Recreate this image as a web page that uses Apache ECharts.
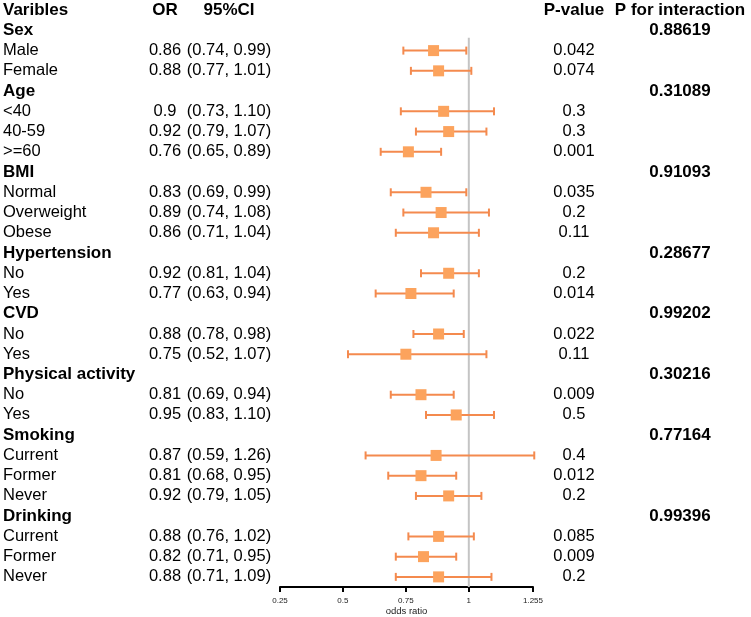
<!DOCTYPE html>
<html><head><meta charset="utf-8">
<script src="https://cdn.jsdelivr.net/npm/echarts@6/dist/echarts.min.js"></script>
<style>html,body{margin:0;padding:0;background:#fff}#c{width:751px;height:617px}</style>
</head><body><div id="c"></div>
<script>
const headers = ['Varibles', 'OR', '95%CI', 'P-value', 'P for interaction'];
const rowLabels = ['Sex','Male','Female','Age','<40','40-59','>=60','BMI','Normal','Overweight','Obese','Hypertension','No','Yes','CVD','No','Yes','Physical activity','No','Yes','Smoking','Current','Former','Never','Drinking','Current','Former','Never'];
const isGroup = [1,0,0,1,0,0,0,1,0,0,0,1,0,0,1,0,0,1,0,0,1,0,0,0,1,0,0,0];
const orValues = [null,0.86,0.88,null,0.9,0.92,0.76,null,0.83,0.89,0.86,null,0.92,0.77,null,0.88,0.75,null,0.81,0.95,null,0.87,0.81,0.92,null,0.88,0.82,0.88];
const ciLower = [null,0.74,0.77,null,0.73,0.79,0.65,null,0.69,0.74,0.71,null,0.81,0.63,null,0.78,0.52,null,0.69,0.83,null,0.59,0.68,0.79,null,0.76,0.71,0.71];
const ciUpper = [null,0.99,1.01,null,1.10,1.07,0.89,null,0.99,1.08,1.04,null,1.04,0.94,null,0.98,1.07,null,0.94,1.10,null,1.26,0.95,1.05,null,1.02,0.95,1.09];
const pValues = [null,'0.042','0.074',null,'0.3','0.3','0.001',null,'0.035','0.2','0.11',null,'0.2','0.014',null,'0.022','0.11',null,'0.009','0.5',null,'0.4','0.012','0.2',null,'0.085','0.009','0.2'];
const pInteraction = ['0.88619',null,null,'0.31089',null,null,null,'0.91093',null,null,null,'0.28677',null,null,'0.99202',null,null,'0.30216',null,null,'0.77164',null,null,null,'0.99396',null,null,null];
const xTicks = [0.25, 0.5, 0.75, 1, 1.255];
const refValue = 1;

const FONT = '"Liberation Sans", Arial, sans-serif';
const markerColor = '#FCA35D';
const barColor = '#F48A4E';
const nRows = rowLabels.length + 1;
const cats = Array.from({length: nRows}, (_, i) => String(i));

function cell(col, i) {
  if (i === 0) return '{b|' + headers[col] + '}';
  const r = i - 1;
  let t = '';
  let bold = false;
  if (col === 0) { t = rowLabels[r]; bold = !!isGroup[r]; }
  else if (col === 1) { t = orValues[r] == null ? '' : String(orValues[r]); }
  else if (col === 2) { t = ciLower[r] == null ? '' : '(' + ciLower[r].toFixed(2) + ', ' + ciUpper[r].toFixed(2) + ')'; }
  else if (col === 3) { t = pValues[r] == null ? '' : pValues[r]; }
  else if (col === 4) { t = pInteraction[r] == null ? '' : pInteraction[r]; bold = true; }
  if (!t) return '';
  return (bold ? '{b|' : '{n|') + t + '}';
}

const rich = {
  b: {fontFamily: FONT, fontWeight: 'bold', fontSize: 17, color: '#000'},
  n: {fontFamily: FONT, fontSize: 16.5, color: '#000'}
};

function textAxis(col, position, offset, align) {
  return {
    type: 'category', gridIndex: 0, inverse: true, position: position, offset: offset,
    data: cats, boundaryGap: true,
    axisLine: {show: false}, axisTick: {show: false}, splitLine: {show: false},
    axisLabel: {
      margin: 0, align: align, verticalAlign: 'middle', interval: 0, hideOverlap: false,
      formatter: (v, i) => cell(col, i), rich: rich
    }
  };
}

const errData = [];
const ptData = [];
rowLabels.forEach((_, r) => {
  if (orValues[r] != null) {
    errData.push([ciLower[r], ciUpper[r], r + 1]);
    ptData.push([orValues[r], r + 1]);
  }
});

const chart = echarts.init(document.getElementById('c'), null, {renderer: 'canvas'});
chart.setOption({
  animation: false,
  backgroundColor: '#fff',
  grid: {left: 280, right: 218, top: 0, bottom: 30, containLabel: false, outerBoundsMode: 'none'},
  xAxis: {
    type: 'value', min: 0.25, max: 1.255, position: 'bottom',
    axisLine: {show: true, onZero: false, lineStyle: {color: '#000', width: 2}},
    axisTick: {show: true, length: 5, customValues: xTicks, lineStyle: {color: '#000', width: 2}},
    axisLabel: {customValues: xTicks, fontSize: 8, color: '#222', margin: 10, fontFamily: FONT, formatter: v => String(v)},
    splitLine: {show: false},
    name: 'odds ratio', nameLocation: 'middle', nameGap: 19, nameMoveOverlap: false,
    nameTextStyle: {fontSize: 9.5, color: '#222', fontFamily: FONT, verticalAlign: 'top'}
  },
  yAxis: [
    textAxis(0, 'left', 277, 'left'),
    textAxis(1, 'left', 115, 'center'),
    textAxis(2, 'left', 51, 'center'),
    textAxis(3, 'right', 41, 'center'),
    textAxis(4, 'right', 147, 'center')
  ],
  series: [
    {
      type: 'custom', xAxisIndex: 0, yAxisIndex: 0, z: 1,
      data: [[refValue, 1]], encode: {x: 0, y: 1},
      renderItem: function (params, api) {
        const p = api.coord([api.value(0), api.value(1)]);
        const band = api.size([0, 1])[1];
        const cs = params.coordSys;
        return {type: 'line', shape: {x1: p[0], y1: p[1] + band * 0.37, x2: p[0], y2: cs.y + cs.height},
          style: {stroke: '#C4C4C4', lineWidth: 2}};
      }
    },
    {
      type: 'custom', xAxisIndex: 0, yAxisIndex: 0, z: 2,
      data: errData, encode: {x: [0, 1], y: 2},
      renderItem: function (params, api) {
        const y = api.value(2);
        const a = api.coord([api.value(0), y]);
        const b = api.coord([api.value(1), y]);
        const h = 4;
        const st = {stroke: barColor, lineWidth: 2};
        return {type: 'group', children: [
          {type: 'line', shape: {x1: a[0], y1: a[1], x2: b[0], y2: b[1]}, style: st},
          {type: 'line', shape: {x1: a[0], y1: a[1] - h, x2: a[0], y2: a[1] + h}, style: st},
          {type: 'line', shape: {x1: b[0], y1: b[1] - h, x2: b[0], y2: b[1] + h}, style: st}
        ]};
      }
    },
    {
      type: 'scatter', xAxisIndex: 0, yAxisIndex: 0, z: 3,
      symbol: 'rect', symbolSize: 11,
      itemStyle: {color: markerColor, opacity: 1},
      data: ptData
    }
  ]
});
</script>
</body></html>
